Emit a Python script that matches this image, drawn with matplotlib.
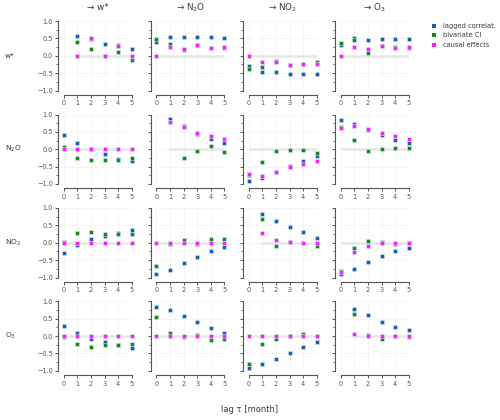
import numpy as np
import matplotlib
matplotlib.use("Agg")
import matplotlib.pyplot as plt
from matplotlib.ticker import MultipleLocator

nan = np.nan
lags = [0, 1, 2, 3, 4, 5]
var_names = ["w*", "N$_2$O", "NO$_2$", "O$_3$"]
series_labels = ["lagged correlat.", "bivariate CI", "causal effects"]
series_colors = ["#1c5ca8", "#138a13", "#ff1aff"]

# lagged correlation, [driver][target]
corr = [
    [[nan, 0.58, 0.48, 0.35, 0.32, 0.18],
     [0.40, 0.54, 0.55, 0.55, 0.55, 0.52],
     [-0.30, -0.46, -0.47, -0.52, -0.53, -0.52],
     [0.32, 0.50, 0.45, 0.48, 0.48, 0.48]],
    [[0.41, 0.17, 0.00, -0.14, -0.27, -0.33],
     [nan, 0.87, 0.66, 0.45, 0.30, 0.17],
     [-0.91, -0.83, -0.65, -0.48, -0.33, -0.20],
     [0.84, 0.74, 0.56, 0.40, 0.26, 0.18]],
    [[-0.30, -0.06, 0.10, 0.19, 0.28, 0.38],
     [-0.91, -0.79, -0.57, -0.40, -0.24, -0.11],
     [nan, 0.83, 0.63, 0.46, 0.30, 0.15],
     [-0.91, -0.76, -0.56, -0.39, -0.25, -0.14]],
    [[0.30, 0.10, -0.09, -0.18, -0.26, -0.33],
     [0.84, 0.74, 0.57, 0.40, 0.24, 0.10],
     [-0.92, -0.80, -0.65, -0.48, -0.31, -0.16],
     [nan, 0.79, 0.60, 0.41, 0.27, 0.16]],
]

# bivariate conditional independence
biv = [
    [[nan, 0.41, 0.19, 0.00, 0.10, -0.11],
     [0.48, 0.33, 0.16, 0.30, 0.23, 0.23],
     [-0.37, -0.33, -0.14, -0.26, -0.24, -0.19],
     [0.37, 0.44, 0.07, 0.27, 0.24, 0.22]],
    [[0.06, -0.25, -0.30, -0.30, -0.30, -0.25],
     [nan, 0.78, -0.24, -0.06, 0.08, -0.09],
     [-0.74, -0.36, -0.05, -0.01, -0.03, -0.11],
     [0.63, 0.26, -0.04, 0.00, 0.03, 0.04]],
    [[0.03, 0.27, 0.31, 0.25, 0.26, 0.26],
     [-0.67, -0.03, 0.08, -0.03, 0.10, 0.12],
     [nan, 0.69, -0.08, 0.02, 0.00, -0.08],
     [-0.80, -0.16, 0.04, 0.02, -0.04, 0.00]],
    [[-0.02, -0.24, -0.32, -0.27, -0.26, -0.23],
     [0.56, 0.10, -0.04, 0.02, -0.11, -0.08],
     [-0.81, -0.24, -0.09, 0.00, 0.07, 0.00],
     [nan, 0.63, 0.03, -0.09, 0.01, -0.03]],
]

# causal effects
causal = [
    [[nan, 0.00, 0.52, 0.00, 0.28, 0.00],
     [0.00, 0.26, 0.20, 0.30, 0.23, 0.26],
     [0.00, -0.18, -0.19, -0.26, -0.24, -0.24],
     [0.00, 0.26, 0.18, 0.29, 0.22, 0.25]],
    [[0.00, 0.00, 0.00, 0.00, 0.00, 0.00],
     [nan, 0.79, 0.63, 0.48, 0.38, 0.30],
     [-0.71, -0.76, -0.65, -0.52, -0.42, -0.33],
     [0.60, 0.68, 0.58, 0.46, 0.38, 0.30]],
    [[0.00, 0.00, 0.00, 0.00, 0.00, 0.00],
     [0.00, 0.00, 0.00, 0.00, 0.00, 0.00],
     [nan, 0.27, 0.07, 0.02, 0.00, 0.00],
     [-0.85, -0.28, -0.08, -0.02, 0.00, 0.00]],
    [[0.00, 0.00, 0.00, 0.00, 0.00, 0.00],
     [0.00, 0.00, 0.00, 0.00, 0.00, 0.00],
     [0.00, 0.00, 0.00, 0.00, 0.00, 0.00],
     [nan, 0.06, 0.00, 0.00, 0.00, 0.00]],
]

all_series = [corr, biv, causal]

plt.rcParams['font.family'] = ['DejaVu Sans']
fig = plt.figure(figsize=(5.0, 4.2), dpi=100)

col_left = [63.7, 156.3, 248.7, 340.7]
row_top = [21.0, 114.5, 208.0, 301.3]
ax_w = 68.0
ax_h = 69.5
W, H = 500.0, 420.0
gray = "#555555"
txt = "#3a3a3a"

for i in range(4):
    for j in range(4):
        ax = fig.add_axes([col_left[j] / W, 1 - (row_top[i] + ax_h) / H,
                           ax_w / W, ax_h / H])
        for s in ['top', 'right']:
            ax.spines[s].set_visible(False)
        ax.spines['left'].set_position(('outward', 4))
        ax.spines['bottom'].set_position(('outward', 3))
        ax.spines['left'].set_bounds(-1, 1)
        ax.spines['bottom'].set_bounds(0, 5)
        for s in ['left', 'bottom']:
            ax.spines[s].set_color(gray)
            ax.spines[s].set_linewidth(0.8)
        ax.set_xlim(0, 5)
        ax.set_ylim(-1, 1)
        ax.set_xticks(lags)
        ax.yaxis.set_major_locator(MultipleLocator(0.5))
        ax.yaxis.set_minor_locator(MultipleLocator(0.25))
        ax.tick_params(axis='both', which='major', labelsize=4.7, colors=gray,
                       length=2.5, width=0.7, pad=1.5)
        ax.tick_params(axis='y', which='minor', length=1.6, width=0.6, colors=gray)
        if j != 0:
            ax.set_yticklabels([])
        ax.grid(True, which='major', color="#f2f2f2", linewidth=0.6)
        ax.set_axisbelow(True)
        x0 = 1 if i == j else 0
        ax.plot([x0, 5], [0, 0], color="#e6e6e6", linewidth=1.8, zorder=1)
        for k in range(3):
            ax.plot(lags, all_series[k][i][j], linestyle='none', marker='s',
                    markersize=3.4, color=series_colors[k],
                    markeredgecolor='#d8e8f8', markeredgewidth=0.4,
                    clip_on=False, zorder=3 + k)
        if i == 0:
            fig.text((col_left[j] + ax_w / 2) / W, 1 - 8 / H,
                     "→ " + var_names[j], fontsize=6.3, color=txt,
                     ha='center', va='center')
        if j == 0:
            fig.text(5 / W, 1 - (row_top[i] + ax_h / 2) / H, var_names[i],
                     fontsize=5.4, color=txt, ha='left', va='center')

# legend
for k in range(3):
    y = 1 - (25.7 + 9.7 * k) / H
    fig.lines.append(plt.Line2D([434 / W], [y], transform=fig.transFigure,
                                linestyle='none', marker='s', markersize=2.4,
                                color=series_colors[k], markeredgewidth=0))
    fig.text(443 / W, y, series_labels[k], fontsize=4.8, color=txt,
             va='center', ha='left')

fig.text(250 / W, 1 - 410 / H, "lag τ [month]", fontsize=6.0, color=txt,
         ha='center', va='center')

fig.savefig("out.png", dpi=100)
